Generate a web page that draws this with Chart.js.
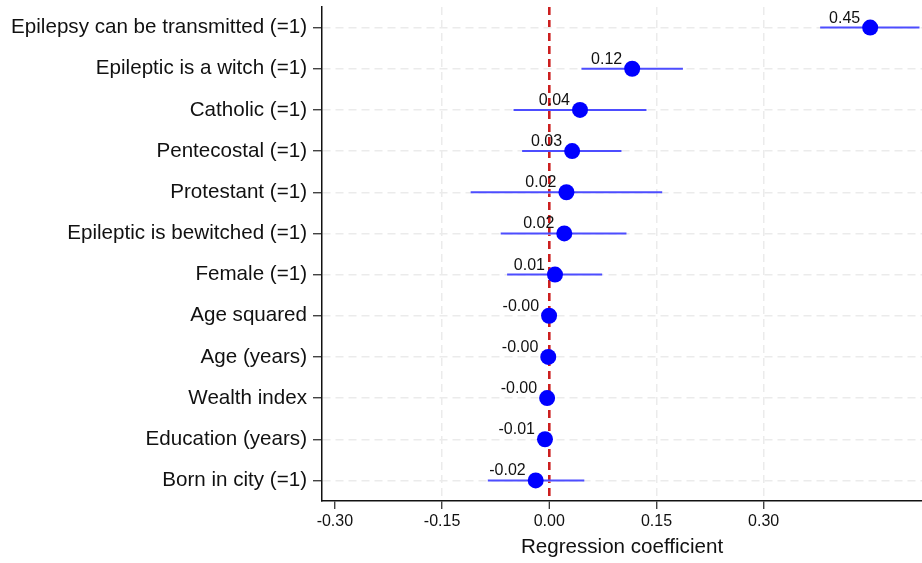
<!DOCTYPE html>
<html>
<head>
<meta charset="utf-8">
<script src="https://cdn.jsdelivr.net/npm/chart.js@4.4.0/dist/chart.umd.min.js"></script>
<style>
  html, body { margin: 0; padding: 0; background: #fff; }
  #wrap { width: 922px; height: 563px; }
</style>
</head>
<body>
<div id="wrap"><canvas id="grafico"></canvas></div>
<script>
// variáveis do modelo (de cima para baixo)
const variaveis = [
  "Epilepsy can be transmitted (=1)",
  "Epileptic is a witch (=1)",
  "Catholic (=1)",
  "Pentecostal (=1)",
  "Protestant (=1)",
  "Epileptic is bewitched (=1)",
  "Female (=1)",
  "Age squared",
  "Age (years)",
  "Wealth index",
  "Education (years)",
  "Born in city (=1)"
];

// coeficientes e intervalos de confiança
const coef  = [0.449, 0.116, 0.043, 0.032, 0.024, 0.021, 0.008, -0.0003, -0.0014, -0.003, -0.006, -0.019];
const ciLow = [0.379, 0.045, -0.050, -0.038, -0.110, -0.068, -0.059, -0.001, -0.004, -0.010, -0.012, -0.086];
const ciHigh = [0.518, 0.187, 0.136, 0.101, 0.158, 0.108, 0.074, 0.0005, 0.001, 0.004, 0.000, 0.049];

const ticksX = [-0.30, -0.15, 0.00, 0.15, 0.30];

const fonte = "'Liberation Sans', Arial, Helvetica, sans-serif";

// pontos dos coeficientes
let pontos = [];
for (let i = 0; i < coef.length; i++) {
  pontos.push({ x: coef[i], y: i });
}

// linhas dos intervalos (null separa os segmentos)
let intervalos = [];
for (let i = 0; i < coef.length; i++) {
  intervalos.push({ x: ciLow[i], y: i });
  intervalos.push({ x: ciHigh[i], y: i });
  intervalos.push({ x: null, y: null });
}

// escreve o valor acima e à esquerda de cada ponto
const rotulos = {
  id: "rotulos",
  afterDatasetsDraw(chart) {
    const ctx = chart.ctx;
    const meta = chart.getDatasetMeta(1);
    ctx.save();
    ctx.font = "16px " + fonte;
    ctx.fillStyle = "#111";
    ctx.textAlign = "right";
    ctx.textBaseline = "alphabetic";
    meta.data.forEach(function (p, i) {
      ctx.fillText(coef[i].toFixed(2), p.x - 10, p.y - 5);
    });
    ctx.restore();
  }
};

const config = {
  type: "scatter",
  data: {
    datasets: [
      {
        label: "IC",
        type: "line",
        data: intervalos,
        borderColor: "#4d4dff",
        borderWidth: 2,
        pointRadius: 0,
        spanGaps: false,
        clip: 0,
        order: 2
      },
      {
        label: "Coeficiente",
        data: pontos,
        backgroundColor: "#0000ff",
        borderWidth: 0,
        pointRadius: 8,
        pointHoverRadius: 8,
        order: 1
      }
    ]
  },
  plugins: [rotulos],
  options: {
    responsive: true,
    maintainAspectRatio: false,
    animation: false,
    layout: { autoPadding: false, padding: { top: 7, right: 0, left: 0, bottom: 0 } },
    plugins: {
      legend: { display: false },
      tooltip: { enabled: false }
    },
    scales: {
      x: {
        type: "linear",
        min: -0.318,
        max: 0.5215,
        afterBuildTicks: function (scale) {
          scale.ticks = ticksX.map(v => ({ value: v }));
        },
        afterFit: function (scale) {
          scale.height = 62;
          scale.paddingLeft = 0;
          scale.paddingRight = 0;
        },
        ticks: {
          font: { size: 16, family: fonte },
          color: "#111",
          padding: 3,
          maxRotation: 0,
          callback: v => v.toFixed(2)
        },
        grid: {
          color: function (c) {
            if (!c.tick) return "transparent";
            if (c.tick.value === 0) return "#cc1f1f";
            if (c.tick.value === -0.30) return "transparent";
            return "#ebebeb";
          },
          lineWidth: c => (c.tick && c.tick.value === 0) ? 2.6 : 1.5,
          tickColor: "#222",
          tickLength: 8,
          tickWidth: 1.2,
          tickBorderDash: []
        },
        border: { display: true, color: "#111", width: 1.5, dash: [8, 5] },
        title: {
          display: true,
          text: "Regression coefficient",
          font: { size: 20.6, family: fonte },
          color: "#111",
          padding: { top: 0, bottom: 3 }
        }
      },
      y: {
        type: "linear",
        reverse: true,
        min: -0.5,
        max: 11.5,
        afterBuildTicks: function (scale) {
          scale.ticks = variaveis.map((_, i) => ({ value: i }));
        },
        afterFit: function (scale) {
          scale.width = 322;
          scale.paddingTop = 0;
          scale.paddingBottom = 0;
        },
        ticks: {
          font: { size: 20.6, family: fonte },
          color: "#111",
          padding: 6,
          callback: v => variaveis[v]
        },
        grid: {
          color: "#ebebeb",
          lineWidth: 1.5,
          tickColor: "#222",
          tickLength: 9,
          tickWidth: 1.2,
          tickBorderDash: []
        },
        border: { display: true, color: "#111", width: 1.5, dash: [8, 5] }
      }
    }
  }
};

let chartCoef = new Chart(document.getElementById("grafico"), config);
</script>
</body>
</html>
